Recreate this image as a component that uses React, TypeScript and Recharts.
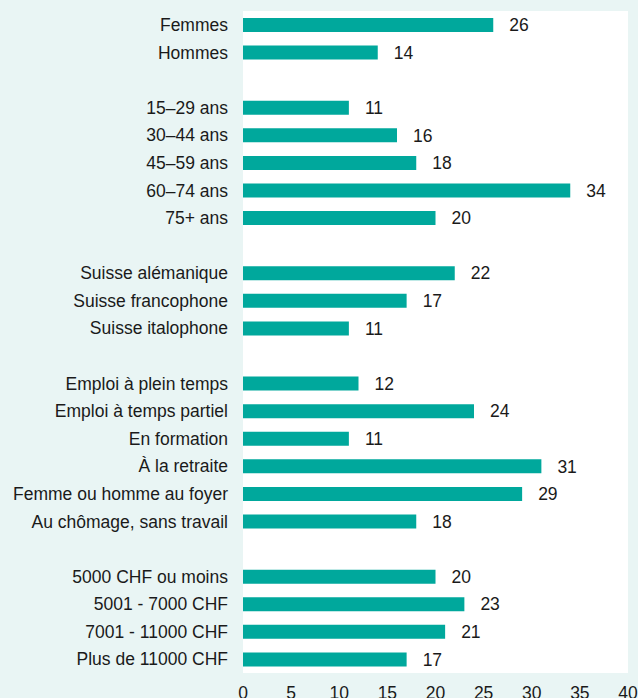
import React from "react";
import { BarChart, Bar, XAxis, YAxis, CartesianGrid, LabelList } from "recharts";

const sexCategories = ["Femmes", "Hommes"];
const sexValues = [26, 14];

const ageCategories = ["15–29 ans", "30–44 ans", "45–59 ans", "60–74 ans", "75+ ans"];
const ageValues = [11, 16, 18, 34, 20];

const regionCategories = ["Suisse alémanique", "Suisse francophone", "Suisse italophone"];
const regionValues = [22, 17, 11];

const activityCategories = [
  "Emploi à plein temps",
  "Emploi à temps partiel",
  "En formation",
  "À la retraite",
  "Femme ou homme au foyer",
  "Au chômage, sans travail",
];
const activityValues = [12, 24, 11, 31, 29, 18];

const incomeCategories = [
  "5000 CHF ou moins",
  "5001 - 7000 CHF",
  "7001 - 11000 CHF",
  "Plus de 11000 CHF",
];
const incomeValues = [20, 23, 21, 17];

const xTicks = [0, 5, 10, 15, 20, 25, 30, 35, 40];

type Row = { name: string; value: number | null };

const groups: [string[], number[]][] = [
  [sexCategories, sexValues],
  [ageCategories, ageValues],
  [regionCategories, regionValues],
  [activityCategories, activityValues],
  [incomeCategories, incomeValues],
];

const data: Row[] = [];
groups.forEach(([cats, vals], gi) => {
  if (gi > 0) data.push({ name: " ".repeat(gi), value: null });
  cats.forEach((c, i) => data.push({ name: c, value: vals[i] }));
});

const FONT = "'Liberation Sans', Arial, sans-serif";
const TEAL = "#00a89c";
const BG = "#e9f5f4";
const TEXT = "#1a1a1a";

export default function App() {
  return (
    <div style={{ position: "absolute", left: 0, top: 0, width: 638, height: 698, background: BG, fontFamily: FONT }}>
      <BarChart
        width={638}
        height={698}
        data={data}
        layout="vertical"
        margin={{ top: 11, right: 10, bottom: 0, left: 0 }}
        barCategoryGap={0}
      >
        <CartesianGrid horizontal={false} vertical={false} fill="#ffffff" stroke="none" />
        <XAxis
          type="number"
          domain={[0, 40]}
          ticks={xTicks}
          axisLine={false}
          tickLine={false}
          tickMargin={8}
          height={25}
          tick={{ fill: TEXT, fontSize: 17.5, fontFamily: FONT }}
        />
        <YAxis
          type="category"
          dataKey="name"
          interval={0}
          width={243}
          axisLine={false}
          tickLine={false}
          tickMargin={9}
          tick={{ fill: TEXT, fontSize: 17.5, fontFamily: FONT }}
        />
        <Bar dataKey="value" fill={TEAL} barSize={14} isAnimationActive={false}>
          <LabelList
            dataKey="value"
            position="right"
            offset={16}
            fill={TEXT}
            fontSize={17.5}
            fontFamily={FONT}
          />
        </Bar>
      </BarChart>
    </div>
  );
}
